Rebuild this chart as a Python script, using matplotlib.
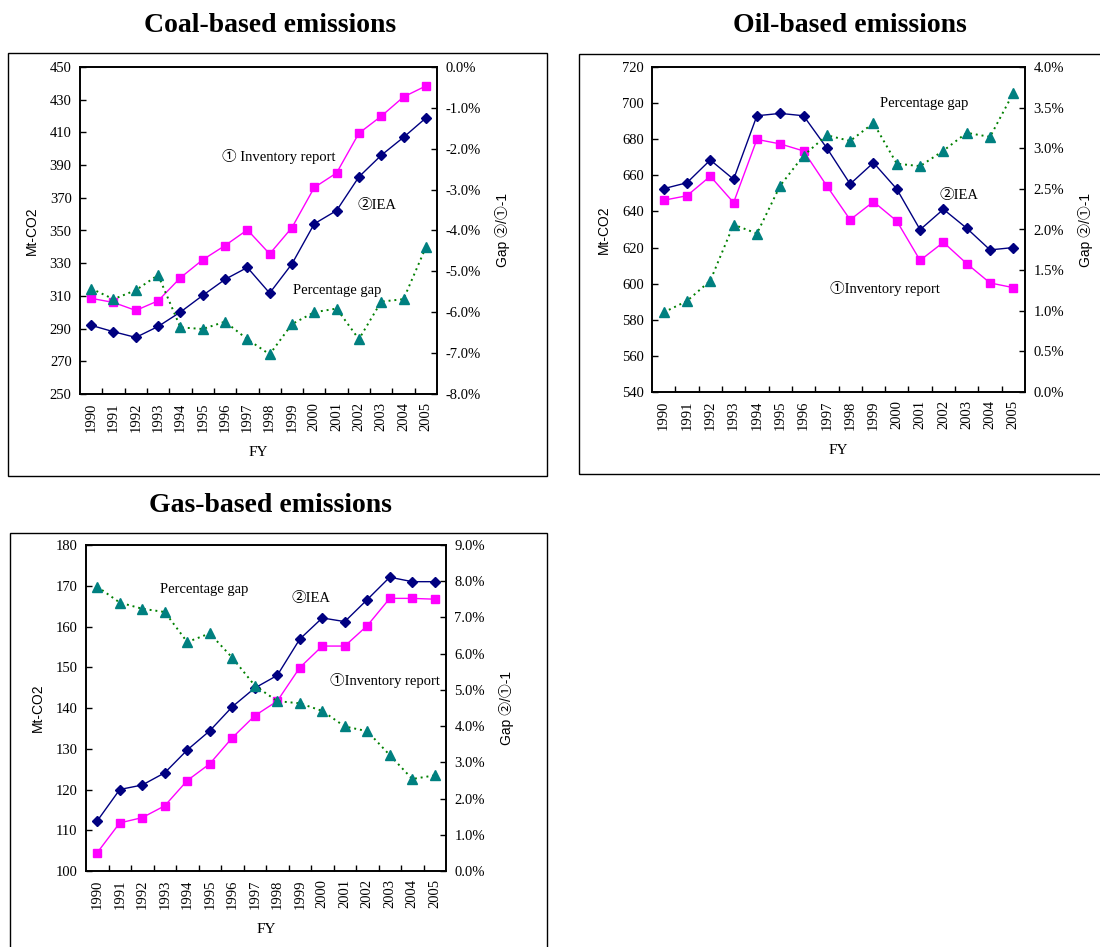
import matplotlib
matplotlib.use("Agg")
import matplotlib.pyplot as plt
from matplotlib.patches import Rectangle
from matplotlib.ticker import FuncFormatter
import numpy as np

plt.rcParams['font.family'] = ['Liberation Serif', 'DejaVu Serif', 'Noto Sans CJK JP']
plt.rcParams['axes.unicode_minus'] = False

years = [str(y) for y in range(1990, 2006)]

coal_inventory = [308.5, 306, 301.1, 307, 321.1, 332.1, 340.8, 350.4, 335.7, 351.8,
                  376.3, 385.2, 409.5, 419.9, 431.7, 438.4]
coal_iea = [292, 288.1, 284.6, 291.3, 300.1, 310.3, 320.1, 327.4, 311.7, 329.6,
            354.1, 362.2, 382.8, 396, 407, 418.8]
coal_gap = [-5.42, -5.68, -5.46, -5.09, -6.37, -6.41, -6.23, -6.66, -7.03, -6.29,
            -6.00, -5.91, -6.66, -5.74, -5.68, -4.41]

oil_inventory = [646.2, 648.7, 659.5, 644.9, 679.9, 677.4, 673.5, 654.1, 635.4, 645.4,
                 634.7, 612.9, 622.9, 611.1, 600.4, 597.8]
oil_iea = [652.6, 655.9, 668.5, 657.8, 693, 694.3, 693, 675.1, 655.2, 667,
           652.4, 629.9, 641.2, 630.7, 618.7, 620]
oil_gap = [0.98, 1.12, 1.37, 2.06, 1.95, 2.54, 2.91, 3.16, 3.09, 3.31,
           2.81, 2.78, 2.97, 3.19, 3.14, 3.68]

gas_inventory = [104.5, 111.8, 113.1, 116, 122.2, 126.3, 132.7, 138.1, 141.7, 149.9,
                 155.2, 155.2, 160.2, 166.9, 166.9, 166.7]
gas_iea = [112.3, 120, 121.1, 124.1, 129.7, 134.4, 140.3, 144.9, 148, 156.9,
           162.1, 161.2, 166.6, 172.1, 171, 171]
gas_gap = [7.85, 7.41, 7.24, 7.15, 6.32, 6.56, 5.89, 5.12, 4.69, 4.63,
           4.42, 3.99, 3.86, 3.20, 2.54, 2.64]

W, H = 1100, 947
fig = plt.figure(figsize=(W / 100, H / 100), dpi=100)

def fx(px):
    return px / W

def fy(py):
    return 1 - py / H

# outer frames
for (x0, y0, x1, y1) in [(8, 53, 547, 476), (579, 54, 1110, 474), (10, 533, 547, 960)]:
    fig.patches.append(Rectangle((fx(x0), fy(y1)), fx(x1) - fx(x0), fy(y0) - fy(y1),
                                 transform=fig.transFigure, fill=False,
                                 edgecolor='black', linewidth=1.0))

SANS = ['Liberation Sans', 'Noto Sans CJK JP']
TS = 10.5

def make_panel(rect, title, title_xy, inv, iea, gap, ylim, ystep, glim, gstep,
               txt_inv, txt_iea, txt_gap):
    x0, y0, x1, y1 = rect
    ax = fig.add_axes([fx(x0), fy(y1), fx(x1) - fx(x0), fy(y0) - fy(y1)])
    x = np.arange(len(years))
    ax.plot(x, inv, color='#FF00FF', marker='s', markersize=6, linewidth=1.0, zorder=3)
    ax.plot(x, iea, color='#000080', marker='D', markersize=5, linewidth=1.0, zorder=3)
    ax.set_xlim(-0.5, len(years) - 0.5)
    ax.set_ylim(*ylim)
    ax.set_yticks(np.arange(ylim[0], ylim[1] + ystep / 2, ystep))
    ax.set_xticks(x)
    ax.set_xticklabels(years, rotation=90, fontsize=TS)
    ax.set_xticks(np.arange(0.5, len(years) - 1, 1.0), minor=True)
    ax.tick_params(axis='x', which='major', length=0, pad=6)
    ax.tick_params(axis='x', which='minor', direction='in', length=4, width=1)
    ax.tick_params(axis='y', direction='in', length=4, width=1, labelsize=TS, pad=6)
    ax.set_ylabel('Mt-CO2', family=SANS, fontsize=10, labelpad=8)
    ax.set_xlabel('FY', fontsize=11, labelpad=10)
    for s in ax.spines.values():
        s.set_linewidth(1.2)

    ax2 = ax.twinx()
    ax2.plot(x, gap, color='#008000', linestyle=(0, (1, 2)), linewidth=1.4,
             marker='^', markersize=7, markerfacecolor='#008080',
             markeredgecolor='#008080', zorder=4)
    ax2.set_ylim(*glim)
    ax2.set_yticks(np.arange(glim[0], glim[1] + gstep / 2, gstep))
    ax2.yaxis.set_major_formatter(FuncFormatter(lambda v, p: f"{v:.1f}%"))
    ax2.tick_params(axis='y', direction='in', length=4, width=1, labelsize=TS, pad=6)
    ax2.set_ylabel('Gap ②/①-1', family=SANS, fontsize=10, labelpad=10)
    for s in ax2.spines.values():
        s.set_linewidth(1.2)

    fig.text(fx(title_xy[0]), fy(title_xy[1]), title, ha='center', va='center',
             fontsize=20, fontweight='bold')
    for (t, (px, py)) in [txt_inv, txt_iea, txt_gap]:
        fig.text(fx(px), fy(py), t, ha='left', va='center', fontsize=TS,
                 family=['Liberation Serif', 'Noto Sans CJK JP'])
    return ax, ax2

make_panel((80, 67, 437, 394), 'Coal-based emissions', (270, 25),
           coal_inventory, coal_iea, coal_gap, (250, 450), 20, (-8, 0), 1,
           ('① Inventory report', (222, 157)), ('②IEA', (358, 205)),
           ('Percentage gap', (293, 290)))

make_panel((652, 67, 1025, 392), 'Oil-based emissions', (850, 25),
           oil_inventory, oil_iea, oil_gap, (540, 720), 20, (0, 4), 0.5,
           ('①Inventory report', (830, 288)), ('②IEA', (939, 195)),
           ('Percentage gap', (880, 103)))

make_panel((86, 545, 446, 871), 'Gas-based emissions', (270, 505),
           gas_inventory, gas_iea, gas_gap, (100, 180), 10, (0, 9), 1,
           ('①Inventory report', (330, 680)), ('②IEA', (292, 598)),
           ('Percentage gap', (160, 590)))

fig.savefig('out.png', dpi=100)
